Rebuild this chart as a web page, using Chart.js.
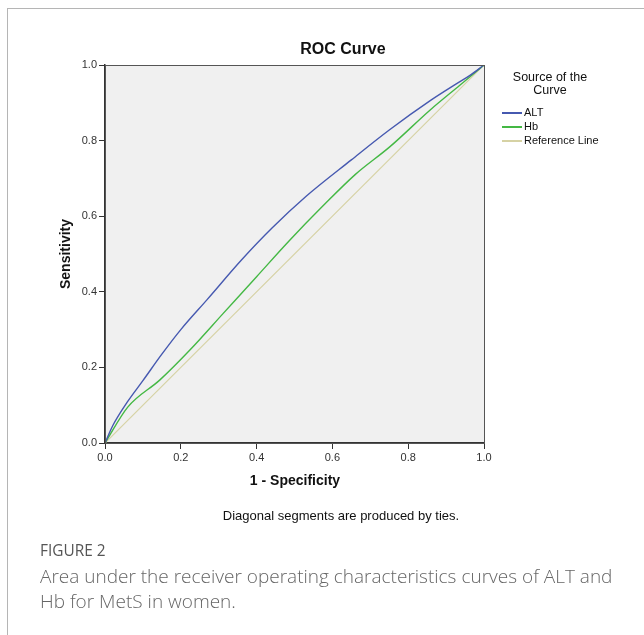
<!DOCTYPE html>
<html>

<head>
  <title>ROC Curve</title>
  <script src="https://cdn.jsdelivr.net/npm/chart.js"></script>
  <style>
    body {
      margin: 0;
      background: #fff;
      width: 644px;
      height: 635px;
      position: relative;
      overflow: hidden;
      font-family: "Liberation Sans", Arial, sans-serif;
    }

    /* marco de la figura */
    #frame {
      position: absolute;
      left: 7px;
      top: 8px;
      width: 700px;
      height: 700px;
      border-top: 1px solid #b5b5b5;
      border-left: 1px solid #b5b5b5;
    }

    #chart {
      position: absolute;
      left: 0;
      top: 0;
    }

    .txt {
      position: absolute;
      white-space: nowrap;
      color: #111;
    }

    #title {
      left: 243px;
      width: 200px;
      top: 40px;
      text-align: center;
      font-weight: bold;
      font-size: 16px;
    }

    #xtitle {
      left: 195px;
      width: 200px;
      top: 472px;
      text-align: center;
      font-weight: bold;
      font-size: 14px;
    }

    #ytitle {
      left: 65px;
      top: 254px;
      font-weight: bold;
      font-size: 14px;
      transform: translate(-50%, -50%) rotate(-90deg);
    }

    #note {
      left: 191px;
      width: 300px;
      top: 508px;
      text-align: center;
      font-size: 13px;
    }

    #legend {
      position: absolute;
      left: 500px;
      top: 71px;
      font-size: 11px;
      color: #111;
    }

    #legend .head {
      width: 100px;
      text-align: center;
      font-size: 12.5px;
      line-height: 13px;
      margin-bottom: 8px;
    }

    #legend .item {
      height: 14px;
      line-height: 14px;
    }

    #legend .swatch {
      display: inline-block;
      width: 20px;
      height: 2px;
      vertical-align: middle;
      margin-right: 2px;
      margin-left: 2px;
    }

    #fig {
      left: 40px;
      top: 540px;
      font-family: "Open Sans", sans-serif;
      font-size: 15.4px;
      color: #555;
    }

    #caption {
      left: 40px;
      top: 564px;
      font-family: "Open Sans", sans-serif;
      font-weight: 300;
      font-size: 19px;
      line-height: 25px;
      color: #666;
    }
  </style>
</head>

<body>
  <div id="frame"></div>
  <canvas id="chart" width="644" height="635"></canvas>

  <div id="title" class="txt">ROC Curve</div>
  <div id="xtitle" class="txt">1 - Specificity</div>
  <div id="ytitle" class="txt">Sensitivity</div>
  <div id="note" class="txt">Diagonal segments are produced by ties.</div>

  <div id="legend"></div>

  <div id="fig" class="txt">FIGURE 2</div>
  <div id="caption" class="txt">Area under the receiver operating characteristics curves of ALT and<br>Hb for MetS in women.</div>

  <script>
    // Datos
    const altX = [0, 0.02, 0.06, 0.1, 0.15, 0.2, 0.27, 0.36, 0.44, 0.53, 0.65, 0.75, 0.86, 0.93, 0.965, 1];
    const altY = [0, 0.045, 0.11, 0.165, 0.235, 0.3, 0.38, 0.484, 0.568, 0.652, 0.749, 0.828, 0.907, 0.952, 0.974, 1];

    const hbX = [0, 0.06, 0.145, 0.224, 0.312, 0.4, 0.488, 0.576, 0.66, 0.752, 0.858, 0.937, 1];
    const hbY = [0, 0.095, 0.167, 0.246, 0.343, 0.44, 0.537, 0.628, 0.71, 0.784, 0.881, 0.947, 1];

    const refX = [0, 1];
    const refY = [0, 1];

    const tickValues = [0, 0.2, 0.4, 0.6, 0.8, 1.0];

    const seriesNames = ['ALT', 'Hb', 'Reference Line'];
    const seriesColors = ['#4659b0', '#44b844', '#d6d2a4'];

    const toPoints = (xs, ys) => xs.map((x, i) => ({ x: x, y: ys[i] }));

    // Leyenda en HTML
    document.getElementById('legend').innerHTML =
      '<div class="head">Source of the<br>Curve</div>' +
      seriesNames.map((name, i) => `
        <div class="item"><span class="swatch" style="background:${seriesColors[i]}"></span>${name}</div>
      `).join('');

    // Fondo gris y borde del área de trazado
    const plotBox = {
      id: 'plotBox',
      beforeDraw(chart) {
        const { ctx, chartArea: a } = chart;
        ctx.save();
        ctx.fillStyle = '#f0f0f0';
        ctx.fillRect(a.left, a.top, a.right - a.left, a.bottom - a.top);
        ctx.restore();
      },
      afterDraw(chart) {
        const { ctx, chartArea: a } = chart;
        ctx.save();
        ctx.strokeStyle = '#555';
        ctx.lineWidth = 1;
        ctx.strokeRect(a.left + 0.5, a.top + 0.5, a.right - a.left, a.bottom - a.top);
        ctx.restore();
      }
    };

    const axisCommon = {
      type: 'linear',
      min: 0,
      max: 1,
      afterBuildTicks: scale => {
        scale.ticks = tickValues.map(v => ({ value: v }));
      },
      ticks: {
        callback: v => v.toFixed(1),
        color: '#333',
        font: { family: 'Liberation Sans', size: 11 },
        padding: 2
      },
      grid: {
        display: true,
        drawOnChartArea: false,
        drawTicks: true,
        tickLength: 6,
        color: '#333'
      },
      border: {
        display: true,
        color: '#333',
        width: 1.5
      }
    };

    new Chart(document.getElementById('chart').getContext('2d'), {
      type: 'line',
      data: {
        datasets: [
          { label: seriesNames[0], data: toPoints(altX, altY), borderColor: seriesColors[0], borderWidth: 1.4 },
          { label: seriesNames[1], data: toPoints(hbX, hbY), borderColor: seriesColors[1], borderWidth: 1.4 },
          { label: seriesNames[2], data: toPoints(refX, refY), borderColor: seriesColors[2], borderWidth: 1.2 }
        ]
      },
      options: {
        responsive: false,
        animation: false,
        elements: {
          point: { radius: 0 },
          line: { cubicInterpolationMode: 'monotone', fill: false }
        },
        layout: {
          padding: { left: 0, top: 65, right: 160, bottom: 0 }
        },
        scales: {
          x: Object.assign({}, axisCommon, {
            afterFit: scale => { scale.height = 192; }
          }),
          y: Object.assign({}, axisCommon, {
            afterFit: scale => { scale.width = 105; }
          })
        },
        plugins: {
          legend: { display: false },
          tooltip: { enabled: false }
        }
      },
      plugins: [plotBox]
    });
  </script>
</body>

</html>
